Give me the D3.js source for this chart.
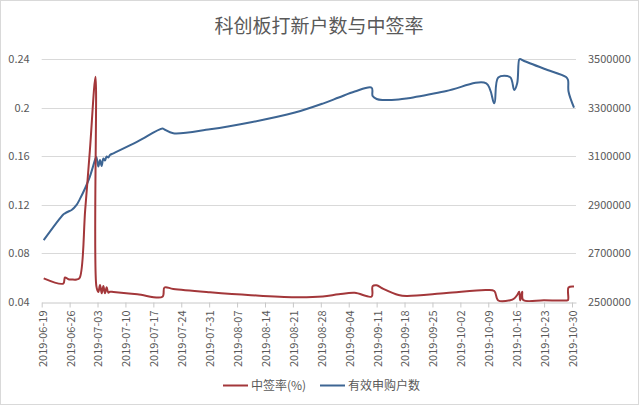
<!DOCTYPE html>
<html>
<head>
<meta charset="utf-8">
<script src="https://cdn.jsdelivr.net/npm/d3@7"></script>
<style>
  html, body { margin: 0; padding: 0; background: #fff; }
  svg { display: block; }
  text { font-family: "Noto Sans CJK SC", "Liberation Sans", sans-serif; }
</style>
</head>
<body>
<script>
// ---- data ----
const title = "科创板打新户数与中签率";
const seriesNames = ["中签率(%)", "有效申购户数"];

const dates = [
  "2019-06-19 12","2019-06-24 10","2019-06-24 20","2019-06-25 17","2019-06-26 12","2019-06-27 18",
  "2019-06-28 12","2019-06-29 22","2019-07-01 02","2019-07-02 12","2019-07-02 17","2019-07-03 05",
  "2019-07-03 15","2019-07-04 01","2019-07-04 11","2019-07-04 21","2019-07-05 07","2019-07-05 17",
  "2019-07-06 03","2019-07-07 00","2019-07-13 00","2019-07-19 07","2019-07-19 19","2019-07-22 00",
  "2019-07-31 05","2019-08-10 12","2019-08-21 12","2019-08-28 12","2019-09-01 12","2019-09-05 12",
  "2019-09-09 18","2019-09-10 00","2019-09-11 00","2019-09-12 12","2019-09-16 12","2019-09-18 12",
  "2019-09-28 12","2019-10-08 12","2019-10-10 12","2019-10-11 12","2019-10-14 12","2019-10-15 12",
  "2019-10-16 06","2019-10-16 18","2019-10-17 00","2019-10-17 12","2019-10-17 18","2019-10-23 00",
  "2019-10-28 12","2019-10-29 00","2019-10-29 03","2019-10-30 12"
];

const rate = [
  0.0593,0.0550,0.0600,0.0585,0.0583,0.0583,
  0.0595,0.1162,0.1648,0.2256,0.0529,0.0480,
  0.0538,0.0469,0.0529,0.0469,0.0519,0.0474,
  0.0482,0.0480,0.0461,0.0441,0.0517,0.0505,
  0.0478,0.0454,0.0437,0.0443,0.0461,0.0473,
  0.0443,0.0529,0.0535,0.0509,0.0455,0.0447,
  0.0471,0.0496,0.0488,0.0410,0.0412,0.0426,
  0.0455,0.0482,0.0410,0.0482,0.0414,0.0412,
  0.0410,0.0414,0.0517,0.0525
];

const households = [
  2754000,2860000,2864500,2872000,2878000,2899000,
  2921000,2969000,3016000,3090500,3096700,3057500,
  3084300,3059600,3090500,3082300,3098800,3094600,
  3105000,3112000,3160000,3214000,3210000,3194400,
  3211000,3240000,3280000,3317000,3342000,3366800,
  3382500,3348200,3335900,3331800,3333800,3338000,
  3369000,3400600,3318100,3424500,3425400,3373000,
  3400600,3498800,3500800,3496700,3494600,3460600,
  3426600,3414000,3366800,3300000
];

const leftTicks = [0.04, 0.08, 0.12, 0.16, 0.2, 0.24];
const rightTicks = [2500000, 2700000, 2900000, 3100000, 3300000, 3500000];
const xTickLabels = [
  "2019-06-19","2019-06-26","2019-07-03","2019-07-10","2019-07-17","2019-07-24","2019-07-31",
  "2019-08-07","2019-08-14","2019-08-21","2019-08-28","2019-09-04","2019-09-11","2019-09-18",
  "2019-09-25","2019-10-02","2019-10-09","2019-10-16","2019-10-23","2019-10-30"
];
const xDomain = ["2019-06-19", "2019-10-31"];

// ---- layout ----
const W = 639, H = 405;
const plot = { left: 41.7, right: 576, top: 59.2, bottom: 301.7 };
const colors = { rate: "#A3373A", households: "#3D6593", grid: "#D9D9D9", text: "#595959", axis: "#C8C8C8" };

const parseT = d3.timeParse("%Y-%m-%d %H");
const parseD = d3.timeParse("%Y-%m-%d");

const x = d3.scaleTime().domain(xDomain.map(parseD)).range([plot.left, plot.right]);
const yL = d3.scaleLinear().domain([0.04, 0.24]).range([plot.bottom, plot.top]);
const yR = d3.scaleLinear().domain([2500000, 3500000]).range([plot.bottom, plot.top]);

const rows = dates.map((d, i) => ({ t: parseT(d), rate: rate[i], hh: households[i] }));

const svg = d3.select("body").append("svg").attr("width", W).attr("height", H);
svg.append("rect").attr("x", 0.5).attr("y", 0.5).attr("width", W - 1).attr("height", H - 1)
  .attr("fill", "#fff").attr("stroke", "#D9D9D9");

// title
svg.append("text").attr("x", 319).attr("y", 33).attr("text-anchor", "middle")
  .attr("font-size", 19).attr("fill", colors.text).text(title);

// gridlines
svg.append("g").selectAll("line").data(leftTicks.slice(1)).join("line")
  .attr("x1", plot.left).attr("x2", plot.right)
  .attr("y1", d => Math.round(yL(d)) + 0.5).attr("y2", d => Math.round(yL(d)) + 0.5)
  .attr("stroke", colors.grid).attr("stroke-width", 1);

// left axis labels
const gL = svg.append("g").attr("transform", `translate(${plot.left},0)`)
  .call(d3.axisLeft(yL).tickValues(leftTicks).tickSize(0).tickPadding(12).tickFormat(d => String(d)));
gL.select(".domain").remove();
gL.selectAll("text").attr("font-size", 11).attr("fill", colors.text)
  .style("font-family", '"Noto Sans CJK SC", sans-serif');

// right axis labels
const gR = svg.append("g").attr("transform", `translate(${plot.right},0)`)
  .call(d3.axisRight(yR).tickValues(rightTicks).tickSize(0).tickPadding(12).tickFormat(d3.format("d")));
gR.select(".domain").remove();
gR.selectAll("text").attr("font-size", 11).attr("fill", colors.text)
  .style("font-family", '"Noto Sans CJK SC", sans-serif');

// bottom axis
const gX = svg.append("g").attr("transform", `translate(0,${Math.round(plot.bottom) + 0.5})`)
  .call(d3.axisBottom(x).tickValues(xTickLabels.map(parseD)).tickSize(5).tickSizeOuter(0)
    .tickFormat(d3.timeFormat("%Y-%m-%d")));
gX.select(".domain").attr("stroke", colors.axis);
gX.selectAll(".tick line").attr("stroke", colors.axis);
gX.selectAll("text")
  .attr("font-size", 11).attr("fill", colors.text)
  .style("font-family", '"Noto Sans CJK SC", sans-serif')
  .attr("text-anchor", "end")
  .attr("transform", "rotate(-90)")
  .attr("x", -8).attr("y", 0).attr("dy", "0.4em");

// lines
const lineHH = d3.line().x(d => x(d.t)).y(d => yR(d.hh)).curve(d3.curveCatmullRom.alpha(0.5));
const lineRate = d3.line().x(d => x(d.t)).y(d => yL(d.rate)).curve(d3.curveCatmullRom.alpha(0.5));

svg.append("path").datum(rows).attr("d", lineHH).attr("fill", "none")
  .attr("stroke", colors.households).attr("stroke-width", 2).attr("stroke-linejoin", "round");
svg.append("path").datum(rows).attr("d", lineRate).attr("fill", "none")
  .attr("stroke", colors.rate).attr("stroke-width", 2).attr("stroke-linejoin", "round");

// legend
const legend = [
  { name: seriesNames[0], color: colors.rate, x: 223 },
  { name: seriesNames[1], color: colors.households, x: 320 }
];
const lg = svg.append("g");
legend.forEach(l => {
  lg.append("line").attr("x1", l.x).attr("x2", l.x + 25).attr("y1", 385.5).attr("y2", 385.5)
    .attr("stroke", l.color).attr("stroke-width", 2);
  lg.append("text").attr("x", l.x + 28).attr("y", 390).attr("font-size", 12)
    .attr("fill", colors.text).text(l.name);
});
</script>
</body>
</html>
